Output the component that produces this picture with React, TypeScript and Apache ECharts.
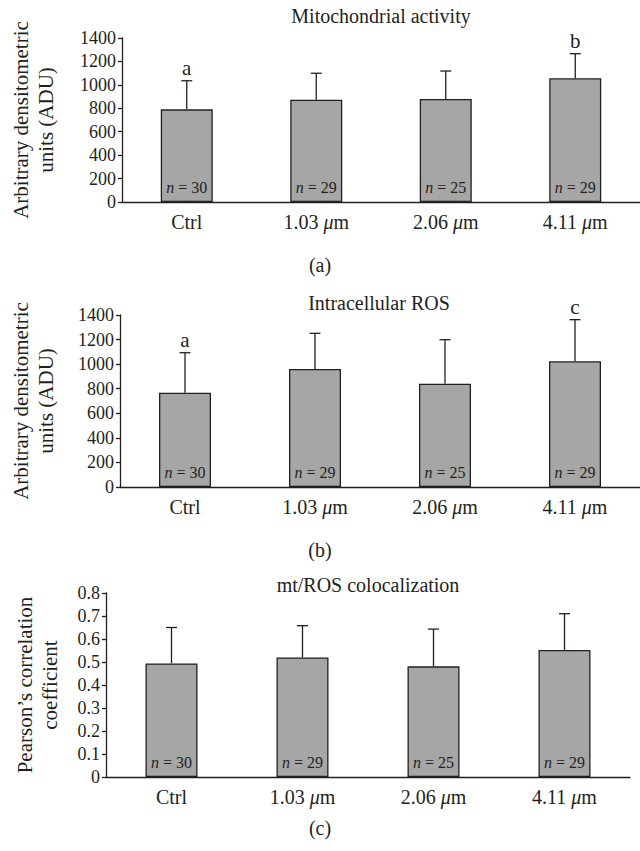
import React, { useEffect, useRef } from 'react';
import * as echarts from 'echarts';

const categories = ['Ctrl', '1.03 μm', '2.06 μm', '4.11 μm'];
const sampleSizes = [30, 29, 25, 29];

const mitoMeans = [791, 873, 879, 1056];
const mitoSD = [244, 226, 239, 210];
const mitoLetters = ['a', '', '', 'b'];

const rosMeans = [767, 960, 840, 1023];
const rosSD = [326, 291, 359, 339];
const rosLetters = ['a', '', '', 'c'];

const colocMeans = [0.494, 0.52, 0.481, 0.552];
const colocSD = [0.156, 0.138, 0.162, 0.158];
const colocLetters = ['', '', '', ''];

const panelTitles = ['Mitochondrial activity', 'Intracellular ROS', 'mt/ROS colocalization'];
const panelTags = ['(a)', '(b)', '(c)'];
const yNames = [
  'Arbitrary densitometric\nunits (ADU)',
  'Arbitrary densitometric\nunits (ADU)',
  'Pearson’s correlation\ncoefficient',
];
const yMax = [1400, 1400, 0.8];
const yInterval = [200, 200, 0.1];

const FONT = 'Liberation Serif';
const INK = '#231f20';
const BAR = '#a6a6a6';

const panels = [
  { means: mitoMeans, sd: mitoSD, letters: mitoLetters },
  { means: rosMeans, sd: rosSD, letters: rosLetters },
  { means: colocMeans, sd: colocSD, letters: colocLetters },
];

// layout (pixels)
const grids = [
  { left: 119, top: 38, width: 524, height: 164 },
  { left: 117, top: 315, width: 523, height: 172 },
  { left: 106, top: 593, width: 524, height: 184 },
];
const nameGaps = [64, 62, 44];
const titlePos = [
  [381, 16],
  [379, 303],
  [368, 585],
];
const tagPos = [
  [320, 265],
  [320, 550],
  [320, 828],
];

export default function App() {
  const ref = useRef<HTMLDivElement>(null);
  useEffect(() => {
    if (!ref.current) return;
    const chart = echarts.init(ref.current, undefined, { renderer: 'svg' });

    const xAxis = grids.map((_, k) => ({
      type: 'category',
      gridIndex: k,
      data: categories,
      axisLine: { lineStyle: { color: INK, width: 1.3 } },
      axisTick: { length: 6, lineStyle: { color: INK, width: 1.3 } },
      axisLabel: {
        margin: 10,
        fontFamily: FONT,
        fontSize: 20,
        color: INK,
        formatter: (v: string) => v.replace('μ', '{i|μ}'),
        rich: { i: { fontFamily: FONT, fontSize: 20, fontStyle: 'italic', color: INK } },
      },
    }));

    const yAxis = grids.map((_, k) => ({
      type: 'value',
      gridIndex: k,
      min: 0,
      max: yMax[k],
      interval: yInterval[k],
      splitLine: { show: false },
      axisLine: { show: true, lineStyle: { color: INK, width: 1.3 } },
      axisTick: { show: true, length: 4, lineStyle: { color: INK, width: 1.3 } },
      axisLabel: {
        margin: 6,
        fontFamily: FONT,
        fontSize: 18,
        color: INK,
        formatter: (v: number) => String(Math.round(v * 1000) / 1000),
      },
      name: yNames[k],
      nameLocation: 'middle',
      nameGap: nameGaps[k],
      nameTextStyle: { fontFamily: FONT, fontSize: 21, color: INK, lineHeight: 25 },
    }));

    const series: any[] = [];
    panels.forEach((p, k) => {
      series.push({
        type: 'bar',
        xAxisIndex: k,
        yAxisIndex: k,
        data: p.means,
        barWidth: 52,
        itemStyle: { color: BAR, borderColor: INK, borderWidth: 1.3 },
        label: {
          show: true,
          position: 'insideBottom',
          distance: 7,
          fontFamily: FONT,
          fontSize: 16,
          color: INK,
          formatter: (prm: any) => `{i|n} = ${sampleSizes[prm.dataIndex]}`,
          rich: { i: { fontFamily: FONT, fontSize: 16, fontStyle: 'italic', color: INK } },
        },
      });
      series.push({
        type: 'custom',
        xAxisIndex: k,
        yAxisIndex: k,
        data: p.means.map((m, i) => [i, m, m + p.sd[i]]),
        encode: { x: 0, y: 1 },
        z: 3,
        renderItem: (params: any, api: any) => {
          const i = api.value(0);
          const p0 = api.coord([i, api.value(1)]);
          const p1 = api.coord([i, api.value(2)]);
          const letter = p.letters[params.dataIndex];
          const children: any[] = [
            { type: 'line', shape: { x1: p0[0], y1: p0[1], x2: p1[0], y2: p1[1] }, style: { stroke: INK, lineWidth: 1.3 } },
            { type: 'line', shape: { x1: p1[0] - 5.5, y1: p1[1], x2: p1[0] + 5.5, y2: p1[1] }, style: { stroke: INK, lineWidth: 1.3 } },
          ];
          if (letter) {
            children.push({
              type: 'text',
              x: p1[0],
              y: p1[1] - 2,
              style: { text: letter, font: `21px "${FONT}"`, fill: INK, textAlign: 'center', textVerticalAlign: 'bottom' },
            });
          }
          return { type: 'group', children };
        },
      });
    });

    const graphic: any[] = [];
    panelTitles.forEach((t, k) => {
      graphic.push({
        type: 'text',
        x: titlePos[k][0],
        y: titlePos[k][1],
        style: { text: t, font: `20px "${FONT}"`, fill: INK, textAlign: 'center', textVerticalAlign: 'middle' },
      });
      graphic.push({
        type: 'text',
        x: tagPos[k][0],
        y: tagPos[k][1],
        style: { text: panelTags[k], font: `20px "${FONT}"`, fill: INK, textAlign: 'center', textVerticalAlign: 'middle' },
      });
    });

    chart.setOption({
      animation: false,
      backgroundColor: '#ffffff',
      textStyle: { fontFamily: FONT },
      grid: grids.map((g) => ({ ...g, containLabel: false })),
      xAxis,
      yAxis,
      series,
      graphic,
    });
    return () => chart.dispose();
  }, []);
  return (
    <div
      ref={ref}
      style={{ position: 'absolute', left: 0, top: 0, width: 640, height: 851, background: '#fff' }}
    />
  );
}
